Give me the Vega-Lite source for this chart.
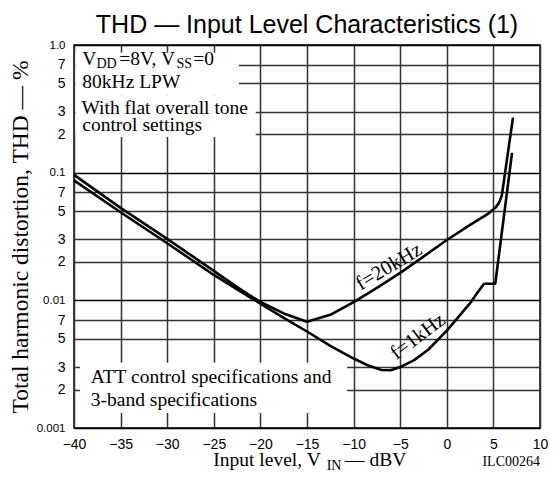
{
  "$schema": "https://vega.github.io/schema/vega-lite/v6.json",
  "width": 466,
  "height": 383,
  "autosize": {"type": "none"},
  "padding": {"left": 74, "top": 45, "right": 17, "bottom": 54},
  "background": "white",
  "config": {
    "view": {"stroke": "black", "strokeWidth": 1.5},
    "font": "Liberation Sans"
  },
  "title": {"text": "THD — Input Level Characteristics (1)", "font": "Liberation Sans", "fontSize": 25, "fontWeight": "normal", "color": "black", "offset": 1, "anchor": "middle"},
  "datasets": {
    "curves": [
      {"series": "f=20kHz", "x": -40, "y": 0.096},
      {"series": "f=20kHz", "x": -35, "y": 0.053},
      {"series": "f=20kHz", "x": -30, "y": 0.0303},
      {"series": "f=20kHz", "x": -25, "y": 0.017},
      {"series": "f=20kHz", "x": -22.5, "y": 0.0127},
      {"series": "f=20kHz", "x": -20, "y": 0.0097},
      {"series": "f=20kHz", "x": -17.5, "y": 0.0079},
      {"series": "f=20kHz", "x": -15, "y": 0.0068},
      {"series": "f=20kHz", "x": -12.5, "y": 0.0077},
      {"series": "f=20kHz", "x": -10, "y": 0.0097},
      {"series": "f=20kHz", "x": -7.5, "y": 0.0125},
      {"series": "f=20kHz", "x": -5, "y": 0.0164},
      {"series": "f=20kHz", "x": -2.5, "y": 0.022},
      {"series": "f=20kHz", "x": 0, "y": 0.0297},
      {"series": "f=20kHz", "x": 2.5, "y": 0.039},
      {"series": "f=20kHz", "x": 4.5, "y": 0.048},
      {"series": "f=20kHz", "x": 5.2, "y": 0.053},
      {"series": "f=20kHz", "x": 5.6, "y": 0.058},
      {"series": "f=20kHz", "x": 5.9, "y": 0.066},
      {"series": "f=20kHz", "x": 7.1, "y": 0.27},
      {"series": "f=1kHz", "x": -40, "y": 0.087},
      {"series": "f=1kHz", "x": -35, "y": 0.049},
      {"series": "f=1kHz", "x": -30, "y": 0.028},
      {"series": "f=1kHz", "x": -25, "y": 0.0158},
      {"series": "f=1kHz", "x": -22.5, "y": 0.0122},
      {"series": "f=1kHz", "x": -20, "y": 0.0094},
      {"series": "f=1kHz", "x": -17.5, "y": 0.0073},
      {"series": "f=1kHz", "x": -15, "y": 0.0057},
      {"series": "f=1kHz", "x": -12.5, "y": 0.0044},
      {"series": "f=1kHz", "x": -10, "y": 0.0035},
      {"series": "f=1kHz", "x": -8.5, "y": 0.0031},
      {"series": "f=1kHz", "x": -7, "y": 0.00285},
      {"series": "f=1kHz", "x": -6, "y": 0.00283},
      {"series": "f=1kHz", "x": -5, "y": 0.0030},
      {"series": "f=1kHz", "x": -3.5, "y": 0.0034},
      {"series": "f=1kHz", "x": -2, "y": 0.0041},
      {"series": "f=1kHz", "x": 0, "y": 0.0058},
      {"series": "f=1kHz", "x": 1.5, "y": 0.0078},
      {"series": "f=1kHz", "x": 2.5, "y": 0.0095},
      {"series": "f=1kHz", "x": 3.3, "y": 0.0115},
      {"series": "f=1kHz", "x": 4.0, "y": 0.0135},
      {"series": "f=1kHz", "x": 5.2, "y": 0.0135},
      {"series": "f=1kHz", "x": 7.0, "y": 0.143}
    ],
    "boxes": [
      {"x": -39.85, "x2": -22.3, "y": 0.87, "y2": 0.4},
      {"x": -39.85, "x2": -20.5, "y": 0.4, "y2": 0.19},
      {"x": -39.36, "x2": -10.7, "y": 0.00324, "y2": 0.00131}
    ],
    "notesTop": [
      {"x": -39.11, "y": 0.697, "text": "V"},
      {"x": -35.15, "y": 0.697, "text": "=8V, V"},
      {"x": -27.2, "y": 0.697, "text": "=0"},
      {"x": -39.11, "y": 0.458, "text": "80kHz LPW"},
      {"x": -39.2, "y": 0.288, "text": "With flat overall tone"},
      {"x": -39.11, "y": 0.213, "text": "control settings"},
      {"x": -38.2, "y": 0.00227, "text": "ATT control specifications and"},
      {"x": -38.2, "y": 0.00149, "text": "3-band specifications"},
      {"x": -25.05, "y": 0.000508, "text": "Input level, V"},
      {"x": -10.92, "y": 0.000508, "text": "— dBV"}
    ],
    "subs": [
      {"x": -37.59, "y": 0.66, "text": "DD"},
      {"x": -29.0, "y": 0.66, "text": "SS"},
      {"x": -12.89, "y": 0.00047, "text": "IN"}
    ],
    "code": [
      {"x": 10, "y": 0.000508, "text": "ILC00264"}
    ],
    "label20": [{"x": -6.2, "y": 0.0183, "text": "f=20kHz"}],
    "label1": [{"x": -3.1, "y": 0.0052, "text": "f=1kHz"}]
  },
  "encoding": {
    "x": {
      "field": "x", "type": "quantitative",
      "scale": {"domain": [-40, 10], "nice": false, "zero": false},
      "axis": {
        "values": [-40, -35, -30, -25, -20, -15, -10, -5, 0, 5, 10],
        "grid": true,
        "gridColor": {"condition": {"test": "datum.value > -100", "value": "#333333"}, "value": "#333333"},
        "gridWidth": {"condition": {"test": "datum.value > -100", "value": 1.5}, "value": 1.5},
        "ticks": false, "domain": false,
        "labelFont": "Liberation Sans", "labelFontSize": 14, "labelColor": "black",
        "labelPadding": 9, "labelFlush": false, "labelOverlap": false,
        "title": null
      }
    },
    "y": {
      "field": "y", "type": "quantitative",
      "scale": {"type": "log", "domain": [0.001, 1], "nice": false},
      "axis": {
        "values": [0.001, 0.002, 0.003, 0.005, 0.007, 0.01, 0.02, 0.03, 0.05, 0.07, 0.1, 0.2, 0.3, 0.5, 0.7, 1],
        "labelExpr": "datum.value > 0.99 ? '1.0' : (abs(datum.value - 0.1) < 1e-6 ? '0.1' : (abs(datum.value - 0.01) < 1e-7 ? '0.01' : (abs(datum.value - 0.001) < 1e-8 ? '0.001' : format(datum.value / pow(10, floor(log(datum.value) / LN10 + 1e-6)), '.0f'))))",
        "grid": true,
        "gridColor": {"condition": {"test": "abs(log(datum.value) / LN10 - round(log(datum.value) / LN10)) < 0.001", "value": "black"}, "value": "#333333"},
        "gridWidth": {"condition": {"test": "abs(log(datum.value) / LN10 - round(log(datum.value) / LN10)) < 0.001", "value": 1.5}, "value": 1.4},
        "ticks": false, "domain": false,
        "labelFont": "Liberation Sans",
        "labelFontSize": {"condition": {"test": "abs(log(datum.value) / LN10 - round(log(datum.value) / LN10)) < 0.001", "value": 11.5}, "value": 14},
        "labelColor": "black", "labelPadding": 9, "labelOverlap": false, "labelFlush": false,
        "title": "Total harmonic distortion, THD — %",
        "titleFont": "Liberation Serif", "titleFontSize": 23.5, "titleFontWeight": "normal", "titleColor": "black",
        "titlePadding": 4
      }
    }
  },
  "layer": [
    {
      "data": {"name": "boxes"},
      "mark": {"type": "rect", "fill": "white", "strokeWidth": 0},
      "encoding": {"x2": {"field": "x2"}, "y2": {"field": "y2"}}
    },
    {
      "data": {"name": "curves"},
      "mark": {"type": "line", "color": "black", "strokeWidth": 2.6, "strokeJoin": "round"},
      "encoding": {"detail": {"field": "series"}}
    },
    {
      "data": {"name": "notesTop"},
      "mark": {"type": "text", "font": "Liberation Serif", "fontSize": 19.5, "align": "left", "baseline": "alphabetic", "color": "black"},
      "encoding": {"text": {"field": "text"}}
    },
    {
      "data": {"name": "subs"},
      "mark": {"type": "text", "font": "Liberation Serif", "fontSize": 14, "align": "left", "baseline": "alphabetic", "color": "black"},
      "encoding": {"text": {"field": "text"}}
    },
    {
      "data": {"name": "code"},
      "mark": {"type": "text", "font": "Liberation Serif", "fontSize": 14, "align": "right", "baseline": "alphabetic", "color": "black"},
      "encoding": {"text": {"field": "text"}}
    },
    {
      "data": {"name": "label20"},
      "mark": {"type": "text", "font": "Liberation Serif", "fontSize": 20.5, "align": "center", "baseline": "middle", "angle": -31, "color": "black"},
      "encoding": {"text": {"field": "text"}}
    },
    {
      "data": {"name": "label1"},
      "mark": {"type": "text", "font": "Liberation Serif", "fontSize": 20.5, "align": "center", "baseline": "middle", "angle": -37, "color": "black"},
      "encoding": {"text": {"field": "text"}}
    }
  ]
}
